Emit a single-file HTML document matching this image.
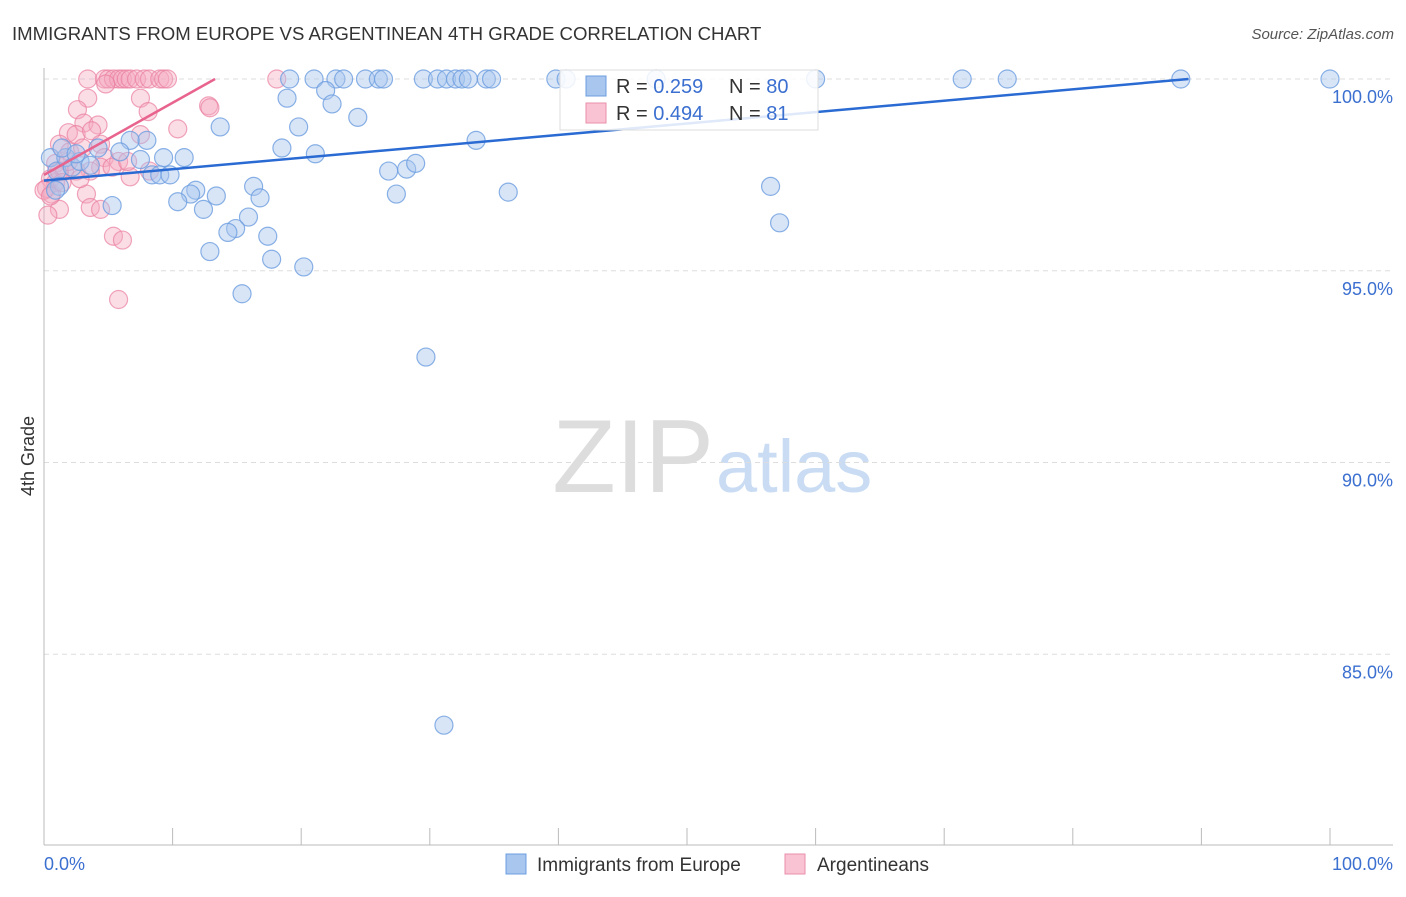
<!DOCTYPE html>
<html><head><meta charset="utf-8"><style>
body{margin:0;background:#fff;font-family:"Liberation Sans",sans-serif}
svg text{font-family:"Liberation Sans",sans-serif}
</style></head><body>
<svg id="c" width="1406" height="892">
<text x="12" y="40" font-size="18.6" fill="#333">IMMIGRANTS FROM EUROPE VS ARGENTINEAN 4TH GRADE CORRELATION CHART</text>
<text x="1394" y="39" font-size="15" fill="#555" font-style="italic" text-anchor="end">Source: ZipAtlas.com</text>
<text x="34" y="456" font-size="18" fill="#333" transform="rotate(-90 34 456)" text-anchor="middle">4th Grade</text>
<text x="714" y="492" font-size="104" fill="#ddd" text-anchor="end" font-family="Liberation Serif">ZIP</text>
<text x="716" y="492" font-size="74" fill="#c9dcf3">atlas</text>
<g id="grid"></g><g id="pts"></g><g id="lines"></g>
<g>
<rect x="560" y="70" width="258" height="60" fill="#fff" fill-opacity="0.85" stroke="#ddd"/>
<rect x="586" y="76" width="20" height="20" fill="#a9c6ee" stroke="#6d9de0"/>
<rect x="586" y="103" width="20" height="20" fill="#f9c3d3" stroke="#ea8fab"/>
<text x="616" y="93" font-size="20" fill="#333">R = <tspan fill="#3b6fd0">0.259</tspan></text>
<text x="729" y="93" font-size="20" fill="#333">N = <tspan fill="#3b6fd0">80</tspan></text>
<text x="616" y="120" font-size="20" fill="#333">R = <tspan fill="#3b6fd0">0.494</tspan></text>
<text x="729" y="120" font-size="20" fill="#333">N = <tspan fill="#3b6fd0"> 81</tspan></text>
</g>
<g>
<rect x="506" y="854" width="20" height="20" fill="#a9c6ee" stroke="#6d9de0"/>
<text x="537" y="871" font-size="19" fill="#333">Immigrants from Europe</text>
<rect x="785" y="854" width="20" height="20" fill="#f9c3d3" stroke="#ea8fab"/>
<text x="817" y="871" font-size="19" fill="#333">Argentineans</text>
</g>
<text x="44" y="870" font-size="18" fill="#3b6fd0">0.0%</text>
<text x="1393" y="870" font-size="18" fill="#3b6fd0" text-anchor="end">100.0%</text>
</svg>
<script>
const yTicks=[100,95,90,85];
const yTickLabels=["100.0%","95.0%","90.0%","85.0%"];
const xTicks=[0,10,20,30,40,50,60,70,80,90,100];
const blueX=[19.1,21,22.7,23.3,25,26,26.4,29.5,30.6,31.3,32,32.5,33,34.4,34.8,39.8,40.6,47.6,60,71.4,74.9,88.4,100,18.9,21.9,22.4,24.4,13.7,19.8,33.6,8,6.7,18.5,21.1,5.9,4.2,9.3,10.9,7.5,26.8,28.2,28.9,8.4,9,9.8,16.3,11.8,11.4,13.4,16.8,27.4,36.1,56.5,10.4,12.4,5.3,15.9,14.9,14.3,17.4,57.2,12.9,17.7,20.2,15.4,29.7,31.1,0.5,1,1.2,1.7,2.2,2.8,3.6,0.9,1.4,2.5];
const blueY=[100,100,100,100,100,100,100,100,100,100,100,100,100,100,100,100,100,100,100,100,100,100,100,99.5,99.7,99.35,99,98.75,98.75,98.4,98.4,98.4,98.2,98.05,98.1,98.2,97.95,97.95,97.9,97.6,97.65,97.8,97.5,97.5,97.5,97.2,97.1,97,96.95,96.9,97,97.05,97.2,96.8,96.6,96.7,96.4,96.1,96,95.9,96.25,95.5,95.3,95.1,94.4,92.75,83.15,97.95,97.6,97.2,97.95,97.7,97.85,97.75,97.1,98.2,98.05];
const pinkX=[3.4,4.7,5,5.4,5.8,6.1,6.4,6.7,7.2,7.8,8.2,9,9.3,9.6,18.1,4.8,3.4,7.5,8.1,12.8,12.9,2.6,3.1,4.2,10.4,1.9,2.5,3.7,7.5,4.4,1.2,2,3,0.9,1.6,4.7,5.8,6.7,4.4,3.6,0.5,0.9,0.6,0.2,3.3,3.6,4.4,1.2,0.3,5.4,6.1,5.8,2.5,1.2,1.9,2.8,5.3,6.5,8.2,0,0.5,1.4];
const pinkY=[100,100,100,100,100,100,100,100,100,100,100,100,100,100,100,99.87,99.5,99.5,99.15,99.3,99.25,99.2,98.85,98.8,98.7,98.6,98.55,98.65,98.55,98.3,98.3,98.1,98.2,97.8,97.6,97.95,97.85,97.45,97.7,97.6,97.4,97.3,97,97.15,97,96.65,96.6,96.6,96.45,95.9,95.8,94.25,97.6,97.6,97.85,97.4,97.7,97.85,97.6,97.1,96.95,97.3];
const blueLine=[0,97.35,89,100];
const pinkLine=[0,97.5,13.3,100];
const X=v=>44+v*12.86, Y=v=>79+(100-v)*38.35;
const NS="http://www.w3.org/2000/svg";
function mk(t,a,p){const e=document.createElementNS(NS,t);for(const k in a)e.setAttribute(k,a[k]);p.appendChild(e);return e;}
const g=document.getElementById('grid');
yTicks.forEach((t,i)=>{
 const l=mk('line',{x1:44,x2:1393,y1:Y(t),y2:Y(t),stroke:'#ddd','stroke-dasharray':'5,4'},g);
 
 
 const tx=mk('text',{x:1393,y:Y(t)+24,'font-size':18,fill:'#3b6fd0','text-anchor':'end'},g);
 tx.textContent=yTickLabels[i];
 
 
});
const ax=mk('line',{x1:44,x2:44,y1:68,y2:845,stroke:'#bbb'},g);


const bx=mk('line',{x1:44,x2:1393,y1:845,y2:845,stroke:'#bbb'},g);


xTicks.forEach(t=>{
 const l=mk('line',{x1:X(t),x2:X(t),y1:828,y2:845,stroke:'#bbb'},g);
 
 
});
const pg=document.getElementById('pts');
pinkX.forEach((x,i)=>{
 const c=mk('circle',{cx:X(x),cy:Y(pinkY[i]),r:9,fill:'#f5a9c0','fill-opacity':0.4,stroke:'#ea7fa0','stroke-opacity':0.7,'stroke-width':1.2},pg);
 
 
});
blueX.forEach((x,i)=>{
 const c=mk('circle',{cx:X(x),cy:Y(blueY[i]),r:9,fill:'#a9c6ee','fill-opacity':0.45,stroke:'#6d9de0','stroke-opacity':0.8,'stroke-width':1.2},pg);
 
 
});
const lg=document.getElementById('lines');
const b=mk('line',{x1:X(blueLine[0]),y1:Y(blueLine[1]),x2:X(blueLine[2]),y2:Y(blueLine[3]),stroke:'#2a6ad3','stroke-width':2.5},lg);


const p=mk('line',{x1:X(pinkLine[0]),y1:Y(pinkLine[1]),x2:X(pinkLine[2]),y2:Y(pinkLine[3]),stroke:'#e8648e','stroke-width':2.5},lg);


</script>
</body></html>
